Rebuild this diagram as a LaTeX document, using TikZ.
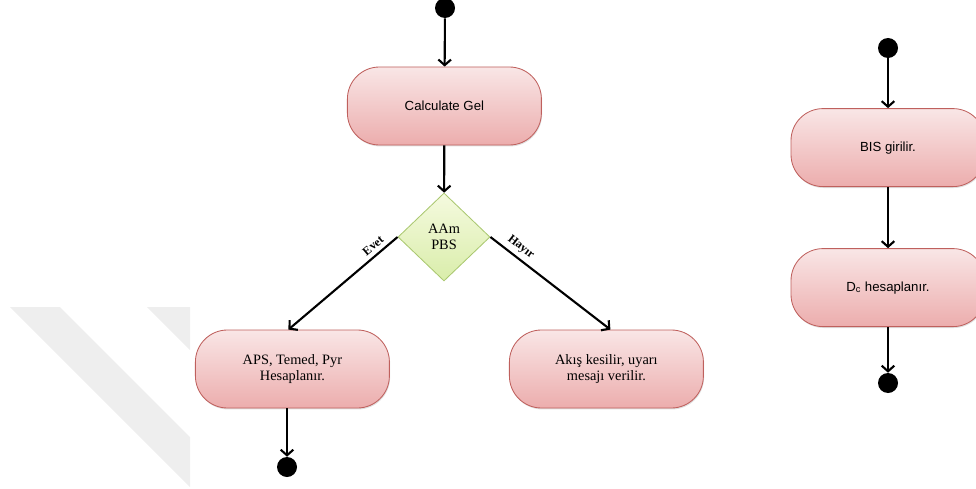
\documentclass[tikz,border=0pt]{standalone}
\usepackage{fontspec}
\setmainfont{Liberation Serif}
\setsansfont{Liberation Sans}
\usetikzlibrary{shapes.geometric,arrows.meta,shadows}

\definecolor{boxtop}{HTML}{F9E6E6}
\definecolor{boxbot}{HTML}{ECADAD}
\definecolor{boxline}{HTML}{BF605D}
\definecolor{dectop}{HTML}{F5FADF}
\definecolor{decbot}{HTML}{D9EDAA}
\definecolor{decline}{HTML}{AAC870}
\definecolor{wmgray}{HTML}{EEEEEE}

\begin{document}
\begin{tikzpicture}[
  act/.style={rectangle, rounded corners=0.8cm, draw=boxline, line width=0.6pt,
    top color=boxtop, bottom color=boxbot, minimum width=4.85cm, minimum height=1.95cm,
    align=center, drop shadow={opacity=0.25,shadow xshift=0.5pt,shadow yshift=-1pt}},
  sertext/.style={font=\rmfamily\fontsize{10.2}{11}\selectfont},
  santext/.style={font=\sffamily\fontsize{9.4}{11}\selectfont},
  dec/.style={diamond, draw=decline, line width=0.6pt, top color=dectop, bottom color=decbot,
    minimum width=2.3cm, minimum height=2.2cm, inner sep=0pt, align=center,
    font=\rmfamily\fontsize{10.2}{11.5}\selectfont},
  blob/.style={circle, fill=black, minimum size=0.5cm, inner sep=0pt},
  flow/.style={line width=1.5pt, -{Straight Barb[length=4pt,width=9pt]}},
  lbl/.style={font=\rmfamily\bfseries\fontsize{8.5}{10}\selectfont, inner sep=1pt}
]
\useasboundingbox (0,0) rectangle (24.4,12.2);

\fill[wmgray] (0.25,4.525) -- (1.5,4.525) -- (4.75,1.275) -- (4.75,0.025) -- cycle;
\fill[wmgray] (3.675,4.525) -- (4.75,4.525) -- (4.75,3.45) -- cycle;

\node[blob] (start1) at (11.125,12.0) {};
\node[act,santext] (calc) at (11.11,9.55) {Calculate Gel};
\node[dec] (choice) at (11.1,6.275) {AAm\\PBS};
\node[act,sertext] (aps) at (7.31,2.975) {APS, Temed, Pyr\\Hesaplanır.};
\node[act,sertext] (akis) at (15.16,2.975) {Akış kesilir, uyarı\\mesajı verilir.};
\node[blob] (end1) at (7.175,0.525) {};

\draw[flow] (start1) -- (calc);
\draw[flow] (calc) -- (choice);
\draw[flow] (choice.west) -- node[lbl,pos=0.17,above=2pt,sloped] {Evet} ([xshift=-0.1cm]aps.north);
\draw[flow] (choice.east) -- node[lbl,pos=0.2,above=2pt,sloped] {Hayır} ([xshift=0.1cm]akis.north);
\draw[flow] (aps.south -| end1) -- (end1);

\node[blob] (start2) at (22.2,11.0) {};
\node[act,santext] (bis) at (22.2,8.51) {BIS girilir.};
\node[act,santext] (dc) at (22.2,5.01) {D\textsubscript{c} hesaplanır.};
\node[blob] (end2) at (22.2,2.625) {};

\draw[flow] (start2) -- (bis);
\draw[flow] (bis) -- (dc);
\draw[flow] (dc) -- (end2);

\end{tikzpicture}
\end{document}
